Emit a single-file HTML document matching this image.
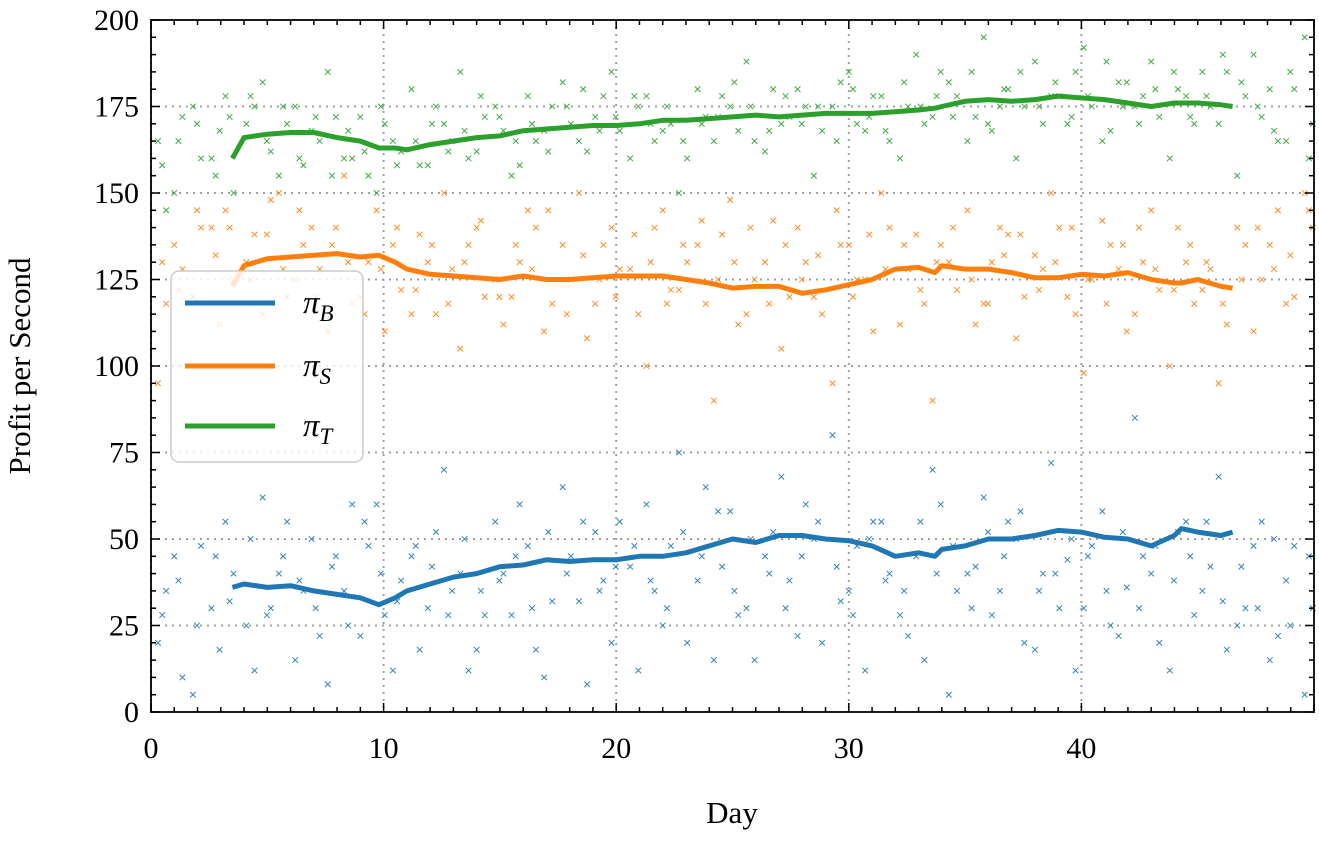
<!DOCTYPE html>
<html><head><meta charset="utf-8"><style>
body{margin:0;background:#fff}
svg text{font-family:"Liberation Serif",serif;fill:#000}
</style></head><body>
<svg id="chart" width="1319" height="839" xmlns="http://www.w3.org/2000/svg">
<g id="grid"></g>
<g id="scatter"></g>
<g id="lines"></g>
<rect x="151" y="20" width="1163" height="692" fill="none" stroke="#000" stroke-width="1.8"/>
<g id="ticks"></g>
<text x="732" y="823" font-size="31" text-anchor="middle">Day</text>
<text transform="translate(30,366) rotate(-90)" font-size="31" text-anchor="middle">Profit per Second</text>
<g>
<rect x="171" y="271" width="192" height="191" rx="8" fill="#fff" fill-opacity="0.8" stroke="#ccc" stroke-width="1.5"/>
<g><line x1="185" y1="303" x2="275" y2="303" stroke="#1f77b4" stroke-width="5"/><text x="303" y="313" font-size="33" font-style="italic">π<tspan font-size="23" dy="8">B</tspan></text></g>
<g><line x1="185" y1="366" x2="275" y2="366" stroke="#ff7f0e" stroke-width="5"/><text x="303" y="376" font-size="33" font-style="italic">π<tspan font-size="23" dy="8">S</tspan></text></g>
<g><line x1="185" y1="426" x2="275" y2="426" stroke="#2ca02c" stroke-width="5"/><text x="303" y="436" font-size="33" font-style="italic">π<tspan font-size="23" dy="8">T</tspan></text></g>
</g>
</svg>
<script>
const xTicks=[0,10,20,30,40];
const yTicks=[0,25,50,75,100,125,150,175,200];
const lineDays=[3.5,4,5,6,7,8,9,9.8,10.5,11,12,13,14,15,16,17,18,19,20,21,22,23,24,25,26,27,28,29,30,31,32,33,33.7,34,35,36,37,38,39,40,41,42,43,44,44.3,45,46,46.5];
const piB=[36,37,36,36.5,35,34,33,31,33,35,37,39,40,42,42.5,44,43.5,44,44,45,45,46,48,50,49,51,51,50,49.5,48,45,46,45,47,48,50,50,51,52.5,52,50.5,50,48,51,53,52,51,52];
const piS=[123,129,131,131.5,132,132.5,131.5,132,130,128,126.5,126,125.5,125,126,125,125,125.5,126,126,126,125,124,122.5,123,123,121,122,123.5,125,128,128.5,127,129,128,128,127,125.5,125.5,126.5,126,127,125,124,124,125,123,122.5];
const piT=[160,166,167,167.5,167.5,166,165,163,163,162.5,164,165,166,166.5,168,168.5,169,169.5,169.5,170,171,171,171.5,172,172.5,172,172.5,173,173,173,173.5,174,174.5,175,176.5,177,176.5,177,178,177.5,177,176,175,176,176,176,175.5,175];
const scatDays=[0.3,1,1.8,2.6,3.2,4.1,4.8,5.5,6.2,6.9,7.6,8.3,9,9.7,10.4,11.2,11.9,12.6,13.3,14,14.8,15.5,16.2,16.9,17.7,18.4,19.1,19.8,20.6,21.3,22,22.7,23.5,24.2,24.9,25.6,26.4,27.1,27.8,28.5,29.3,30,30.7,31.4,32.2,32.9,33.6,34.3,35.1,35.8,36.5,37.2,38,38.7,39.4,40.1,40.9,41.6,42.3,43,43.8,44.5,45.2,45.9,46.7,47.4,48.1,48.8,49.6];
const scatB=[20,45,5,30,55,25,62,40,15,50,8,35,22,60,12,45,30,70,40,18,55,28,48,10,65,32,52,20,42,60,25,75,38,15,58,30,45,68,22,50,80,35,12,55,28,45,70,5,40,62,35,50,18,72,44,30,58,22,85,40,12,55,35,68,25,48,15,38,5];
const scatB2=[35,10,48,18,40,12,30,55,35,22,45,60,48,28,38,18,52,35,12,28,40,60,18,32,45,8,38,55,12,35,48,20,65,42,28,15,52,38,60,20,32,48,55,40,22,15,60,35,42,28,55,20,40,30,12,48,25,36,45,20,52,28,42,18,30,55,22,48,30];
const scatB3=[28,38,25,45,32,50,28,45,38,30,42,25,55,40,32,48,42,28,50,35,38,45,30,52,40,55,35,42,48,38,30,52,45,58,35,50,40,30,45,55,42,28,50,38,35,55,40,48,30,52,45,58,35,40,50,45,35,52,30,48,38,45,55,32,42,30,50,25,45];
const scatS=[95,135,120,140,145,130,115,150,125,140,110,155,120,145,135,115,130,150,105,140,125,120,145,110,135,150,118,140,128,100,145,122,135,90,148,115,130,105,140,120,95,135,125,150,112,138,90,130,145,118,140,108,132,150,120,98,142,128,115,145,100,130,122,95,140,110,135,118,150];
const scatS2=[118,128,140,112,125,138,148,120,135,128,140,118,130,110,122,138,115,128,135,120,112,130,140,118,125,108,135,128,115,140,122,130,118,138,112,125,142,120,130,115,135,125,110,140,128,118,135,122,112,130,138,120,128,140,115,125,135,110,130,122,140,118,128,112,135,125,145,120,140];
const scatS3=[130,122,145,132,140,125,138,128,145,120,135,130,115,128,140,122,135,118,130,142,120,135,128,145,115,132,125,120,138,130,118,135,142,125,130,140,118,135,125,132,145,120,138,128,135,122,130,140,125,118,132,138,122,130,140,125,118,135,140,128,122,135,130,118,125,140,128,132,145];
const scatT=[165,150,175,160,178,170,182,155,175,168,185,160,172,150,165,180,158,170,185,162,175,155,178,168,182,165,172,185,160,178,168,150,180,165,175,188,162,170,180,155,175,185,168,178,160,190,172,182,165,195,175,160,188,178,170,192,165,182,175,188,160,178,185,170,155,190,180,165,195];
const scatT2=[145,172,160,168,150,175,162,170,158,165,172,160,155,170,162,158,175,165,160,172,168,158,165,175,170,162,178,168,175,165,170,160,172,178,168,165,180,172,175,168,182,170,178,165,175,170,185,178,172,168,180,175,170,178,185,175,168,182,178,172,180,170,175,185,178,172,165,180,170];
const scatT3=[158,165,170,155,172,178,165,175,160,172,155,168,162,175,158,165,170,162,168,178,172,165,170,162,175,180,168,172,178,170,175,165,170,172,182,175,168,178,170,175,165,180,172,168,182,175,178,172,185,170,180,185,175,182,172,178,188,175,170,180,185,172,178,190,182,175,168,185,160];

const X0=151,X1=1314,Y0=712,Y1=20;
const xs=d=>X0+(X1-X0)*d/50;
const ys=v=>Y0-(Y0-Y1)*v/200;
const NS="http://www.w3.org/2000/svg";
function mk(tag,attrs,parent){const e=document.createElementNS(NS,tag);for(const k in attrs)e.setAttribute(k,attrs[k]);parent.appendChild(e);return e;}
const grid=document.getElementById('grid'),ticks=document.getElementById('ticks'),sc=document.getElementById('scatter'),ln=document.getElementById('lines');
xTicks.forEach(t=>{
 const g=mk('line',{x1:xs(t),x2:xs(t),y1:Y1,y2:Y0,stroke:'#a0a0a0','stroke-width':2,'stroke-dasharray':'2,5'},grid);
 
 
 const l=mk('text',{x:xs(t),y:Y0+46,'font-size':30,'text-anchor':'middle'},ticks);l.textContent=t;
 
 
});
yTicks.forEach(t=>{
 if(t>0&&t<200){const g=mk('line',{x1:X0,x2:X1,y1:ys(t),y2:ys(t),stroke:'#a0a0a0','stroke-width':2,'stroke-dasharray':'2,5'},grid);
 
 }
 const l=mk('text',{x:X0-12,y:ys(t)+10,'font-size':30,'text-anchor':'end'},ticks);l.textContent=t;
 
 
});
for(let d=0;d<=50;d++){const maj=d%10==0,L=maj?9:5,x=xs(d);
 mk('line',{x1:x,x2:x,y1:Y0,y2:Y0-L,stroke:'#000','stroke-width':1.5},ticks);
 mk('line',{x1:x,x2:x,y1:Y1,y2:Y1+L,stroke:'#000','stroke-width':1.5},ticks);}
for(let v=0;v<=200;v+=5){const maj=v%25==0,L=maj?9:5,y=ys(v);
 mk('line',{x1:X0,x2:X0+L,y1:y,y2:y,stroke:'#000','stroke-width':1.5},ticks);
 mk('line',{x1:X1,x2:X1-L,y1:y,y2:y,stroke:'#000','stroke-width':1.5},ticks);}
function scatter(vals,col,off){vals.forEach((v,i)=>{const x=xs(scatDays[i]+off),y=ys(v),s=2.8;
 const p=mk('path',{d:`M${x-s},${y-s}L${x+s},${y+s}M${x-s},${y+s}L${x+s},${y-s}`,stroke:col,'stroke-width':1,opacity:0.9},sc);
 
 });}
scatter(scatB,'#1f77b4',0);scatter(scatB2,'#1f77b4',0.35);scatter(scatB3,'#1f77b4',0.18);
scatter(scatS,'#ff7f0e',0);scatter(scatS2,'#ff7f0e',0.35);scatter(scatS3,'#ff7f0e',0.18);
scatter(scatT,'#2ca02c',0);scatter(scatT2,'#2ca02c',0.35);scatter(scatT3,'#2ca02c',0.18);
[[piB,'#1f77b4','line-pi-b'],[piS,'#ff7f0e','line-pi-s'],[piT,'#2ca02c','line-pi-t']].forEach(([vals,col,name])=>{
 const d=vals.map((v,i)=>(i?'L':'M')+xs(lineDays[i]).toFixed(1)+','+ys(v).toFixed(1)).join('');
 const p=mk('path',{d:d,fill:'none',stroke:col,'stroke-width':5,'stroke-linejoin':'round'},ln);
 
 
});
</script>
</body></html>
